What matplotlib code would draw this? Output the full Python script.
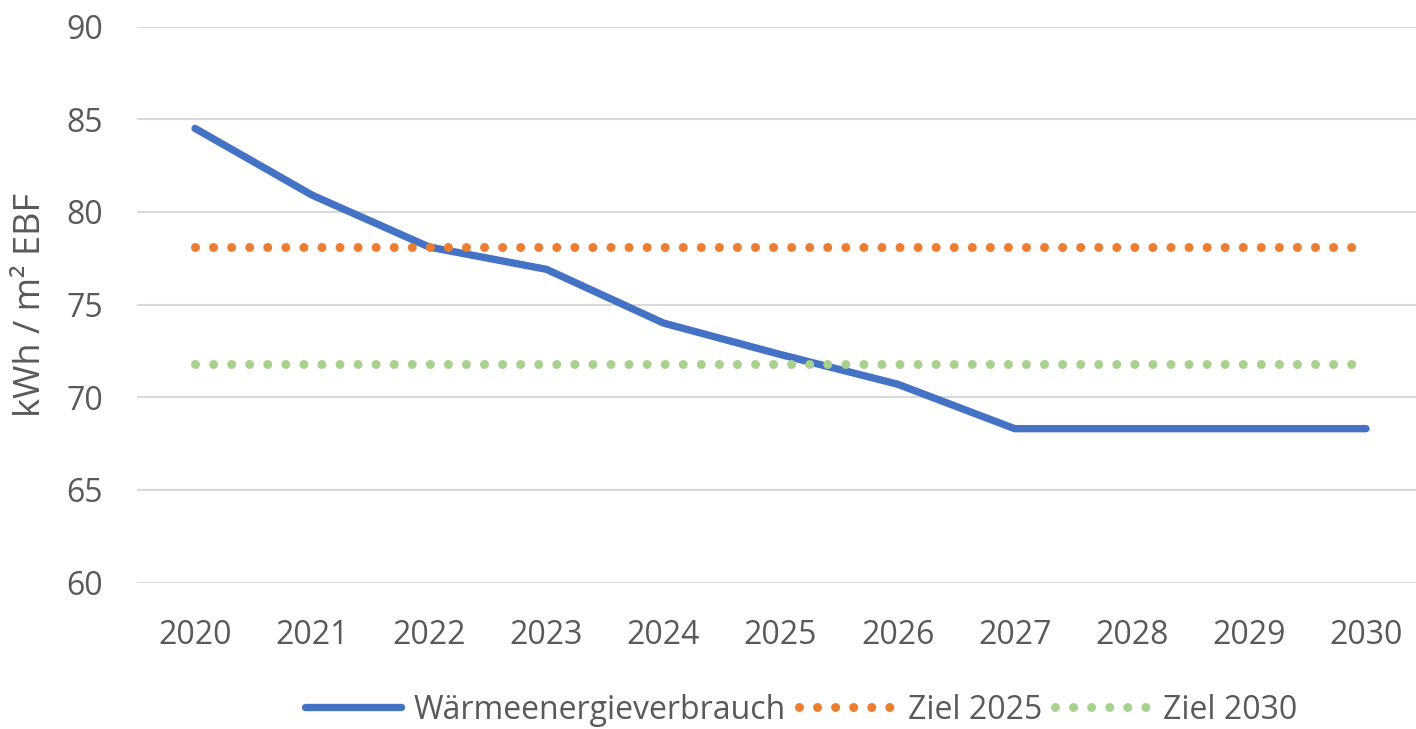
import matplotlib
matplotlib.use("Agg")
import matplotlib.pyplot as plt
from matplotlib.lines import Line2D

years = ["2020", "2021", "2022", "2023", "2024", "2025", "2026", "2027", "2028", "2029", "2030"]
verbrauch = [84.5, 80.9, 78.1, 76.9, 74.0, 72.3, 70.7, 68.3, 68.3, 68.3, 68.3]
ziel_2025 = [78.1] * len(years)
ziel_2030 = [71.8] * len(years)
y_ticks = [60, 65, 70, 75, 80, 85, 90]

plt.rcParams['font.family'] = ['Open Sans', 'DejaVu Sans']
TXT = '#595959'
FS = 23
DOT = (0, (0.001, 2))

fig = plt.figure(figsize=(14.16, 7.29), dpi=100)
ax = fig.add_axes([136.5/1416, 1-582.5/729, 1288/1416, 556/729])

x = list(range(len(years)))
ax.plot(x, verbrauch, color='#4472C4', lw=5.3, solid_capstyle='round',
        solid_joinstyle='round', zorder=2, label='Wärmeenergieverbrauch')
ax.plot(x, ziel_2025, color='#ED7D31', lw=6.5, linestyle=DOT,
        dash_capstyle='round', zorder=3, label='Ziel 2025')
ax.plot(x, ziel_2030, color='#A9D18E', lw=6.5, linestyle=DOT,
        dash_capstyle='round', zorder=3, label='Ziel 2030')

ax.set_xlim(-0.5, len(years) - 0.5)
ax.set_ylim(60, 90)
ax.set_yticks(y_ticks)
ax.set_xticks(x)
ax.set_xticklabels(years)
ax.grid(axis='y', color='#D9D9D9', lw=1.5, zorder=0)
ax.set_axisbelow(True)
for s in ax.spines.values():
    s.set_visible(False)
ax.tick_params(axis='y', length=0, pad=24, labelsize=FS, labelcolor=TXT)
ax.tick_params(axis='x', length=0, pad=26, labelsize=FS, labelcolor=TXT)

ax.set_ylabel('kWh / m² EBF', fontsize=26, color=TXT)
ax.yaxis.set_label_coords(-0.068, 0.5)

handles = [
    Line2D([], [], color='#4472C4', lw=5.3, solid_capstyle='round'),
    Line2D([], [], color='#ED7D31', lw=6.5, linestyle=DOT, dash_capstyle='round'),
    Line2D([], [], color='#A9D18E', lw=6.5, linestyle=DOT, dash_capstyle='round'),
]
fig.legend(handles, ['Wärmeenergieverbrauch', 'Ziel 2025', 'Ziel 2030'],
           loc='center', bbox_to_anchor=(0.566, 0.026), ncol=3, frameon=False,
           fontsize=FS, labelcolor=TXT, handlelength=3.0, handletextpad=0.4,
           columnspacing=0.4, borderpad=0)

fig.savefig('out.png', dpi=100)
